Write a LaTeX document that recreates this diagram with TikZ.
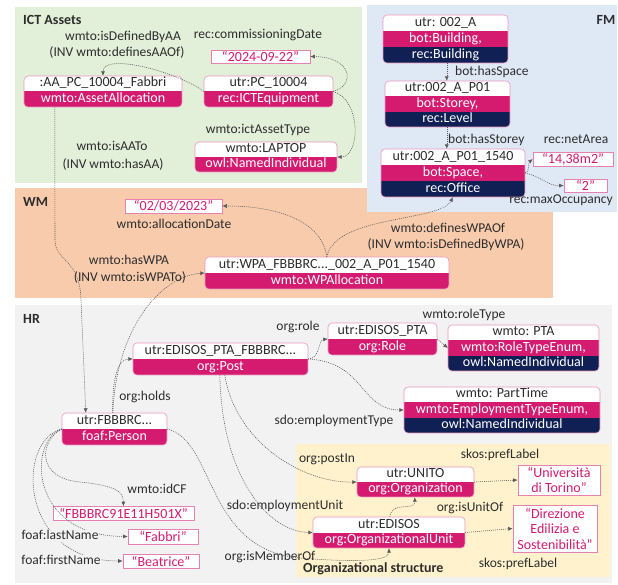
\documentclass[tikz,border=0pt]{standalone}
\usepackage{fontspec}
\setmainfont{Carlito}
\usetikzlibrary{arrows.meta}
\definecolor{pinkc}{RGB}{212,27,112}
\definecolor{navyc}{RGB}{16,32,84}
\definecolor{greenbg}{RGB}{226,239,217}
\definecolor{bluebg}{RGB}{222,233,245}
\definecolor{orangebg}{RGB}{248,203,173}
\definecolor{greybg}{RGB}{242,242,242}
\definecolor{yellowbg}{RGB}{255,242,204}
\definecolor{labc}{RGB}{45,45,45}
\definecolor{linec}{RGB}{90,90,90}
\tikzset{
 lab/.style={font=\fontsize{13.5}{15}\selectfont, text=labc, inner sep=0pt, text height=9pt, text depth=2.8pt},
 ttl/.style={font=\bfseries\fontsize{14}{16}\selectfont, text=labc, inner sep=0pt},
 rowtxt/.style={font=\fontsize{14}{15}\selectfont, inner sep=0pt, text=labc, text height=9.5pt, text depth=3pt},
 lit/.style={draw=pinkc!55, fill=white, text=pinkc, line width=0.6pt, inner sep=0pt, font=\fontsize{14}{15.5}\selectfont, align=center},
 conn/.style={draw=linec, line width=0.55pt, dash pattern=on 1pt off 1pt, -{Latex[length=4.5pt,width=4pt]}},
 ebox/.style={inner sep=0pt},
}
\newcommand\EntTwo[7]{%
 \pgfmathsetmacro\rsM{(#3+#5)/2}%
 \pgfmathsetmacro\rsX{(#2+#4)/2}%
 \pgfmathsetmacro\rsW{#4-#2}%
 \pgfmathsetmacro\rsH{#5-#3}%
 \pgfmathsetmacro\rsTa{(#3+\rsM)/2}%
 \pgfmathsetmacro\rsTb{(\rsM+#5)/2}%
 \begin{scope}
 \clip[rounded corners=4pt] (#2,#3) rectangle (#4,#5);
 \fill[white] (#2,#3) rectangle (#4,\rsM);
 \fill[pinkc] (#2,\rsM) rectangle (#4,#5);
 \end{scope}
 \draw[rounded corners=4pt, draw=pinkc!45, line width=0.6pt] (#2,#3) rectangle (#4,#5);
 \node[ebox, minimum width=\rsW pt, minimum height=\rsH pt] (#1) at (\rsX,\rsM) {};
 \node[rowtxt] at (\rsX,\rsTa) {#6};
 \node[rowtxt, text=white] at (\rsX,\rsTb) {#7};
}
\newcommand\EntThree[8]{%
 \pgfmathsetmacro\rsA{#3+(#5-#3)/3}%
 \pgfmathsetmacro\rsB{#3+2*(#5-#3)/3}%
 \pgfmathsetmacro\rsM{(#3+#5)/2}%
 \pgfmathsetmacro\rsX{(#2+#4)/2}%
 \pgfmathsetmacro\rsW{#4-#2}%
 \pgfmathsetmacro\rsH{#5-#3}%
 \pgfmathsetmacro\rsTa{(#3+\rsA)/2}%
 \pgfmathsetmacro\rsTb{(\rsA+\rsB)/2}%
 \pgfmathsetmacro\rsTc{(\rsB+#5)/2}%
 \begin{scope}
 \clip[rounded corners=4pt] (#2,#3) rectangle (#4,#5);
 \fill[white] (#2,#3) rectangle (#4,\rsA);
 \fill[pinkc] (#2,\rsA) rectangle (#4,\rsB);
 \fill[navyc] (#2,\rsB) rectangle (#4,#5);
 \end{scope}
 \draw[rounded corners=4pt, draw=pinkc!45, line width=0.6pt] (#2,#3) rectangle (#4,#5);
 \node[ebox, minimum width=\rsW pt, minimum height=\rsH pt] (#1) at (\rsX,\rsM) {};
 \node[rowtxt] at (\rsX,\rsTa) {#6};
 \node[rowtxt, text=white] at (\rsX,\rsTb) {#7};
 \node[rowtxt, text=white] at (\rsX,\rsTc) {#8};
}
\begin{document}
\begin{tikzpicture}[x=1pt,y=-1pt]
\useasboundingbox (0,0) rectangle (618,585);
% regions
\fill[white] (0,0) rectangle (618,585);
\fill[greenbg] (15,7) rectangle (362,183);
\fill[orangebg] (15,188) rectangle (553,298);
\fill[bluebg] (367,5) rectangle (617,212);
\fill[greybg] (15,305) rectangle (612,583);
\fill[yellowbg] (296,444) rectangle (610,577);
% titles
\node[ttl, anchor=west] (tICT) at (23,20) {ICT Assets};
\node[ttl] (tFM) at (606,20) {FM};
\node[ttl, anchor=west] (tWM) at (23,202) {WM};
\node[ttl, anchor=west] (tHR) at (23,319) {HR};
\node[ttl, anchor=west] (tOrg) at (303,569) {Organizational structure};
% ICT nodes
\EntTwo{aa}{24}{76}{182}{107}{:AA\_PC\_10004\_Fabbri}{wmto:AssetAllocation}
\EntTwo{pc}{204}{76}{333}{107}{utr:PC\_10004}{rec:ICTEquipment}
\EntTwo{laptop}{195}{142}{337}{172}{wmto:LAPTOP}{owl:NamedIndividual}
\node[lit, minimum width=99pt, minimum height=13pt] (d1) at (260.5,56.5) {“2024-09-22”};
% FM nodes
\EntThree{bld}{383}{15}{508}{63}{utr: 002\_A}{bot:Building,}{rec:Building}
\EntThree{sto}{385}{81}{510}{127}{utr:002\_A\_P01}{bot:Storey,}{rec:Level}
\EntThree{spc}{381}{149}{525}{197}{utr:002\_A\_P01\_1540}{bot:Space,}{rec:Office}
\node[lit, minimum width=80pt, minimum height=14pt] (area) at (573,159) {“14,38m2”};
\node[lit, minimum width=43pt, minimum height=13pt] (occ) at (585.5,185.5) {“2”};
% WM nodes
\EntTwo{wpa}{205}{257}{449}{289}{utr:WPA\_FBBBRC...\_002\_A\_P01\_1540}{wmto:WPAllocation}
\node[lit, minimum width=97pt, minimum height=14pt] (d2) at (173.5,206) {“02/03/2023”};
% HR nodes
\EntTwo{post}{133}{343}{308}{375}{utr:EDISOS\_PTA\_FBBBRC...}{org:Post}
\EntTwo{role}{328}{323}{437}{355}{utr:EDISOS\_PTA}{org:Role}
\EntThree{pta}{448}{325}{599}{371}{wmto: PTA}{wmto:RoleTypeEnum,}{owl:NamedIndividual}
\EntThree{ptime}{404}{387}{600}{433}{wmto: PartTime}{wmto:EmploymentTypeEnum,}{owl:NamedIndividual}
\EntTwo{person}{62}{413}{167}{445}{utr:FBBBRC...}{foaf:Person}
\EntTwo{unito}{357}{467}{474}{497}{utr:UNITO}{org:Organization}
\EntTwo{edisos}{313}{517}{465}{548}{utr:EDISOS}{org:OrganizationalUnit}
\node[lit, minimum width=141pt, minimum height=14pt] (idcf) at (123.5,513.5) {“FBBBRC91E11H501X”};
\node[lit, minimum width=70pt, minimum height=15pt] (fab) at (163,536.5) {“Fabbri”};
\node[lit, minimum width=76pt, minimum height=14pt] (bea) at (161,561) {“Beatrice”};
\node[lit, minimum width=82pt, minimum height=30pt] (uni) at (559,480) {“Università\\di Torino”};
\node[lit, minimum width=84pt, minimum height=47pt] (dir) at (555,528.5) {“Direzione\\Edilizia e\\Sostenibilità”};
% connectors ICT
\draw[conn] (pc.west) .. controls (178,72) and (103,52) .. (aa.north);
\draw[conn] (pc.east) .. controls (356,85) and (352,57) .. (d1.east);
\draw[conn] (pc.east) .. controls (362,100) and (360,157) .. (laptop.east);
\draw[conn] ([xshift=31pt]aa.south west) -- (55,240) .. controls (55,262) and (80,258) .. (81,300) -- ([xshift=24pt]person.north west);
% FM
\draw[conn] ([xshift=64pt]bld.south west) -- ([xshift=62pt]sto.north west);
\draw[conn] ([xshift=62pt]sto.south west) -- ([xshift=66pt]spc.north west);
\draw[conn] (spc.east) .. controls (530,172) and (528,163) .. (area.west);
\draw[conn] (spc.east) .. controls (540,176) and (548,186) .. (occ.west);
% WM
\draw[conn] ([xshift=51pt]person.north west) .. controls (116,330) and (160,276) .. (wpa.west);
\draw[conn] ([xshift=122pt]wpa.north west) .. controls (322,222) and (280,206) .. (d2.east);
\draw[conn] ([xshift=122pt]wpa.north west) .. controls (335,215) and (440,222) .. (spc.south);
% HR
\draw[conn] ([xshift=51pt]person.north west) .. controls (112,385) and (116,359) .. (post.west);
\draw[conn] (post.east) .. controls (320,359) and (318,340) .. (role.west);
\draw[conn] (role.east) -- (pta.west);
\draw[conn] (post.east) .. controls (365,362) and (360,410) .. (ptime.west);
\draw[conn] ([xshift=92pt]post.south west) .. controls (235,440) and (300,483) .. (unito.west);
\draw[conn] ([xshift=87pt]post.south west) .. controls (222,480) and (270,532) .. (edisos.west);
\draw[conn] (person.west) .. controls (40,440) and (35,478) .. (80,482) .. controls (118,486) and (123,492) .. (idcf.north);
\draw[conn] (person.west) .. controls (28,440) and (28,536) .. (fab.west);
\draw[conn] (person.west) .. controls (16,440) and (18,561) .. (bea.west);
\draw[conn] (person.east) .. controls (215,440) and (205,550) .. (300,558) .. controls (350,562) and (389,562) .. (edisos.south);
\draw[conn] ([xshift=77pt]edisos.north west) .. controls (392,500) and (415,512) .. ([xshift=58pt]unito.south west);
\draw[conn] (unito.east) -- (uni.west);
\draw[conn] (edisos.east) -- (dir.west);
% labels
\node[lab] (l1) at (123,37) {wmto:isDefinedByAA};
\node[lab] (l2) at (117,53) {(INV wmto:definesAAOf)};
\node[lab] (l3) at (258,35) {rec:commissioningDate};
\node[lab] (l4) at (258,130) {wmto:ictAssetType};
\node[lab] (l5) at (112,147) {wmto:isAATo};
\node[lab] (l6) at (113,165) {(INV wmto:hasAA)};
\node[lab, anchor=west] (l7) at (455,72) {bot:hasSpace};
\node[lab, anchor=west] (l8) at (448,140) {bot:hasStorey};
\node[lab] (l9) at (576,140) {rec:netArea};
\node[lab] (l10) at (561,200) {rec:maxOccupancy};
\node[lab] (l11) at (174,225) {wmto:allocationDate};
\node[lab] (l12) at (448,229) {wmto:definesWPAOf};
\node[lab] (l13) at (446,245) {(INV wmto:isDefinedByWPA)};
\node[lab] (l14) at (129,261) {wmto:hasWPA};
\node[lab] (l15) at (130,278) {(INV wmto:isWPATo)};
\node[lab] (l16) at (298,327) {org:role};
\node[lab] (l17) at (464,315) {wmto:roleType};
\node[lab] (l18) at (145,397) {org:holds};
\node[lab] (l19) at (334,421) {sdo:employmentType};
\node[lab] (l20) at (157,490) {wmto:idCF};
\node[lab, fill=greybg] (l21) at (60,536) {foaf:lastName};
\node[lab, fill=greybg] (l22) at (61,561) {foaf:firstName};
\node[lab] (l23) at (327,459) {org:postIn};
\node[lab] (l24) at (500,455) {skos:prefLabel};
\node[lab] (l25) at (285,506) {sdo:employmentUnit};
\node[lab] (l26) at (470,508) {org:isUnitOf};
\node[lab] (l27) at (270,557) {org:isMemberOf};
\node[lab] (l28) at (518,564) {skos:prefLabel};
\end{tikzpicture}
\end{document}
